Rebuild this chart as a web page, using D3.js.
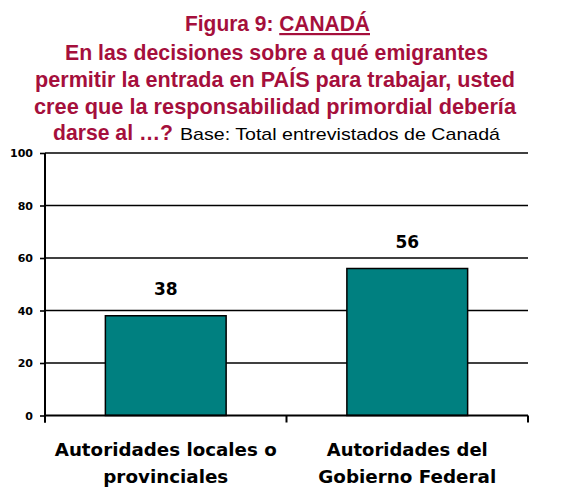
<!DOCTYPE html>
<html>
<head>
<meta charset="utf-8">
<script src="https://cdn.jsdelivr.net/npm/d3@7"></script>
<style>
  body { margin: 0; background: #fff; }
  svg { display: block; }
</style>
</head>
<body>
<svg id="chart" width="565" height="488"></svg>
<script>
// Chart data
const categories = [
    ['Autoridades locales o', 'provinciales'],
    ['Autoridades del', 'Gobierno Federal']
];
const values = [38, 56];
const yTicks = [0, 20, 40, 60, 80, 100];

const titleLines = [
    'En las decisiones sobre a qué emigrantes',
    'permitir la entrada en PAÍS para trabajar, usted',
    'cree que la responsabilidad primordial debería'
];

const svg = d3.select('#chart');
const red = '#A50F3C';
const font = '"Liberation Sans", Arial, sans-serif';
const wide = '"DejaVu Sans", Verdana, sans-serif';

const margin = { left: 45, right: 37, top: 153, bottom: 72.5 };
const width = 565 - margin.left - margin.right;
const height = 488 - margin.top - margin.bottom;

const x = d3.scaleBand()
    .domain(d3.range(categories.length))
    .range([0, width])
    .paddingInner(0.5)
    .paddingOuter(0.25);

const y = d3.scaleLinear()
    .domain([0, 100])
    .range([height, 0]);

// Title
const title = svg.append('g').attr('font-family', font).attr('font-weight', 'bold').attr('fill', red);

const first = title.append('text')
    .attr('x', 185).attr('y', 31)
    .attr('font-size', 22)
    .attr('textLength', 185).attr('lengthAdjust', 'spacingAndGlyphs');
first.append('tspan').text('Figura 9: ');
first.append('tspan').text('CANADÁ').attr('text-decoration', 'underline');

const spans = [[65, 423], [35, 480], [34, 482]];
titleLines.forEach((t, i) => {
    title.append('text')
        .attr('x', spans[i][0]).attr('y', 60 + i * 27)
        .attr('font-size', 21.5)
        .attr('textLength', spans[i][1]).attr('lengthAdjust', 'spacingAndGlyphs')
        .text(t);
});

title.append('text')
    .attr('x', 53).attr('y', 140)
    .attr('font-size', 21.5)
    .attr('textLength', 120).attr('lengthAdjust', 'spacingAndGlyphs')
    .text('darse al …?');

svg.append('text')
    .attr('x', 180).attr('y', 140)
    .attr('font-family', font)
    .attr('font-size', 17)
    .attr('fill', '#000')
    .attr('textLength', 320).attr('lengthAdjust', 'spacingAndGlyphs')
    .text('Base: Total entrevistados de Canadá');

const g = svg.append('g').attr('transform', `translate(${margin.left},${margin.top})`);

// Gridlines
g.append('g')
    .selectAll('line')
    .data(yTicks.filter(d => d > 0))
    .join('line')
    .attr('x1', 0).attr('x2', width)
    .attr('y1', d => y(d)).attr('y2', d => y(d))
    .attr('stroke', '#000')
    .attr('stroke-width', 1.6);

// Bars
g.append('g')
    .selectAll('rect')
    .data(values)
    .join('rect')
    .attr('x', (d, i) => x(i))
    .attr('y', d => y(d))
    .attr('width', x.bandwidth())
    .attr('height', d => height - y(d))
    .attr('fill', '#008080')
    .attr('stroke', '#000')
    .attr('stroke-width', 1.5);

// Value labels
g.append('g')
    .selectAll('text')
    .data(values)
    .join('text')
    .attr('x', (d, i) => x(i) + x.bandwidth() / 2)
    .attr('y', d => y(d) - 21)
    .attr('text-anchor', 'middle')
    .attr('font-family', wide)
    .attr('font-weight', 'bold')
    .attr('font-size', 17)
    .text(d => d);

// Y axis
const yAxis = g.append('g')
    .call(d3.axisLeft(y).tickValues(yTicks).tickSize(5).tickPadding(7));
yAxis.select('.domain').remove();
yAxis.selectAll('.tick line').attr('stroke', '#000').attr('stroke-width', 1.6);
yAxis.selectAll('.tick text')
    .attr('font-family', wide)
    .attr('font-weight', 'bold')
    .attr('font-size', 11)
    .attr('fill', '#000');

g.append('line')
    .attr('x1', 0).attr('x2', 0)
    .attr('y1', 0).attr('y2', height + 7)
    .attr('stroke', '#000').attr('stroke-width', 2);

// X axis
g.append('line')
    .attr('x1', 0).attr('x2', width)
    .attr('y1', height).attr('y2', height)
    .attr('stroke', '#000').attr('stroke-width', 2);

g.append('g')
    .selectAll('line')
    .data([0, 1, 2])
    .join('line')
    .attr('x1', d => d * width / 2).attr('x2', d => d * width / 2)
    .attr('y1', height).attr('y2', height + 7)
    .attr('stroke', '#000').attr('stroke-width', 2);

// Category labels
const catWidths = [[222, 125], [161, 178]];
const cat = g.append('g')
    .selectAll('text')
    .data(categories)
    .join('text')
    .attr('text-anchor', 'middle')
    .attr('font-family', wide)
    .attr('font-weight', 'bold')
    .attr('font-size', 17);

cat.selectAll('tspan')
    .data((d, i) => d.map((s, j) => ({ s, i, j })))
    .join('tspan')
    .attr('x', d => x(d.i) + x.bandwidth() / 2)
    .attr('y', d => height + 40 + d.j * 27)
    .attr('textLength', d => catWidths[d.i][d.j])
    .attr('lengthAdjust', 'spacingAndGlyphs')
    .text(d => d.s);
</script>
</body>
</html>
